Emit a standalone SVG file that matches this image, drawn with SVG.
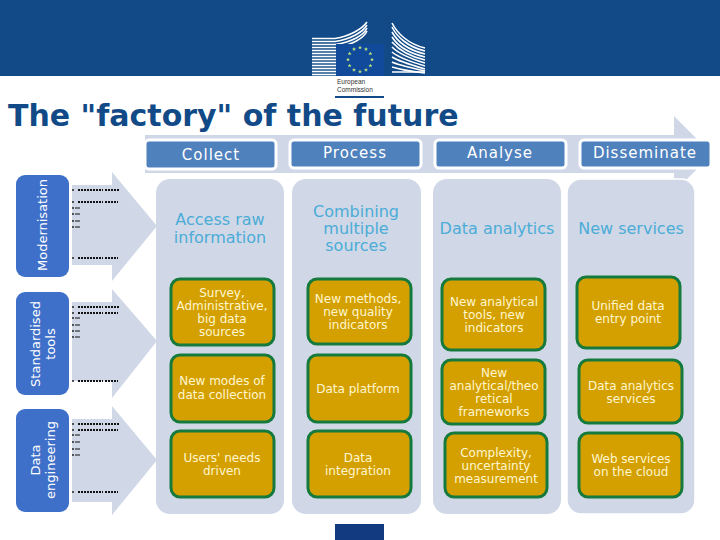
<svg xmlns="http://www.w3.org/2000/svg" xmlns:xlink="http://www.w3.org/1999/xlink" width="720" height="540" viewBox="0 0 720 540">
<style>
text{font-family:"DejaVu Sans","Verdana",sans-serif;text-anchor:middle}
.panel{fill:#d0d8e8}
.hdr{fill:#4f81bd;stroke:#fff;stroke-width:3}
.hdrt{fill:#fff;font-size:15px;letter-spacing:1px}
.side{fill:#3e6fc9}
.sidet{fill:#fff;font-size:13px}
.gold{fill:#d4a000;stroke:#157a3c;stroke-width:3}
.goldt{fill:#fff6cf;font-size:12px}
.blue{fill:#4bacd6;font-size:16px}
.win{fill:none;stroke:#fff;stroke-width:1.6}
.dot{fill:#111}
.mark{fill:none;stroke:#111;stroke-width:2;stroke-dasharray:2 1}
.mark2{fill:none;stroke:#111;stroke-width:1}
</style>
<defs>
<g id="bul"><circle cx="0" cy="0" r="0.9" class="dot"/><path d="M2 0h5" class="mark2"/></g>
<g id="bulL"><circle cx="0" cy="0" r="0.9" class="dot"/><path d="M5 0h25M32 0h15" class="mark"/></g>
<g id="bulS"><circle cx="0" cy="0" r="0.9" class="dot"/><path d="M5 0h25M32 0h13" class="mark"/></g>
<polygon id="star" points="0,-2 .6,-.6 2,-.6 .9,.3 1.3,1.8 0,.9 -1.3,1.8 -.9,.3 -2,-.6 -.6,-.6" fill="#b6e07a"/>
</defs>
<rect width="720" height="540" fill="#fff"/>
<g id="banner">
<rect width="720" height="76" fill="#114a87"/>
<g class="win">
<path d="M312 38.500H335C350 36 362 29 367 22"/><path d="M312 41.500H335C351 39 363 32 367 25"/><path d="M312 44.500H335C352 42 364 35 367 28"/><path d="M312 47.500H336C352 45 364 38 367 31"/><path d="M312 50.500H336"/><path d="M312 53.500H336"/><path d="M312 56.500H336"/><path d="M312 59.500H336"/><path d="M312 62.500H336"/><path d="M312 65.500H336"/><path d="M312 68.500H336"/><path d="M312 71.500H336"/><path d="M312 74.500H336"/>
<path d="M392 23C397 33 408 44 425 48"/><path d="M392 27C397 37 408 47 425 51"/><path d="M392 32C397 41 408 50 425 54"/><path d="M392 37C397 45 408 53 425 57"/><path d="M392 42C398 49 408 56 425 60"/><path d="M392 47C398 53 408 58 425 63"/><path d="M392 52C398 57 408 61 425 66"/><path d="M392 57C398 61 408 64 425 69"/><path d="M392 62C398 65 408 67 425 71"/><path d="M392 67C398 69 408 71 425 73"/><path d="M392 72H425"/>
</g>
<rect x="336" y="44" width="48" height="32" fill="#114a9b"/>
<g transform="translate(360 59.500)">
<use xlink:href="#star" x="0" y="-12"/><use xlink:href="#star" x="6" y="-10.400"/><use xlink:href="#star" x="10.400" y="-6"/><use xlink:href="#star" x="12" y="0"/><use xlink:href="#star" x="10.400" y="6"/><use xlink:href="#star" x="6" y="10.400"/><use xlink:href="#star" x="0" y="12"/><use xlink:href="#star" x="-6" y="10.400"/><use xlink:href="#star" x="-10.400" y="6"/><use xlink:href="#star" x="-12" y="0"/><use xlink:href="#star" x="-10.400" y="-6"/><use xlink:href="#star" x="-6" y="-10.400"/>
</g>
<text x="337" y="84" style="text-anchor:start;font-size:6.500px;fill:#333;font-family:'Liberation Sans',sans-serif">European</text>
<text x="337" y="92" style="text-anchor:start;font-size:6.500px;fill:#333;font-family:'Liberation Sans',sans-serif">Commission</text>
<rect x="335" y="96" width="49" height="2" fill="#114a87"/>
</g>
<text id="title" x="8" y="126" style="text-anchor:start;font-size:30px;font-weight:700;fill:#114a87">The "factory" of the future</text>
<g id="process-arrow"><polygon class="panel" points="145,135 674,135 674,116 712,154 674,192 674,173 145,173"/></g>
<g id="modernisation">
<polygon class="panel" points="72,185 112,185 112,172 157,226 112,281 112,265 72,265"/>
<rect class="side" x="16" y="175" width="53" height="102" rx="9"/>
<text class="sidet" transform="translate(47 225) rotate(-90)">Modernisation</text>
<use xlink:href="#bulL" x="73" y="190"/><use xlink:href="#bulS" x="73" y="202"/><use xlink:href="#bul" x="73" y="208"/><use xlink:href="#bul" x="73" y="214"/><use xlink:href="#bul" x="73" y="221"/><use xlink:href="#bul" x="73" y="227"/><use xlink:href="#bulS" x="73" y="258"/>
</g>
<g id="standardised">
<polygon class="panel" points="72,302 112,302 112,289 157,341 112,398 112,381 72,381"/>
<rect class="side" x="16" y="292" width="53" height="103" rx="9"/>
<text class="sidet" transform="translate(40 344) rotate(-90)">Standardised</text>
<text class="sidet" transform="translate(55 344) rotate(-90)">tools</text>
<use xlink:href="#bulL" x="73" y="307"/><use xlink:href="#bulS" x="73" y="313"/><use xlink:href="#bul" x="73" y="318"/><use xlink:href="#bul" x="73" y="325"/><use xlink:href="#bul" x="73" y="331"/><use xlink:href="#bul" x="73" y="337"/><use xlink:href="#bulS" x="73" y="381"/>
</g>
<g id="data-engineering">
<polygon class="panel" points="72,419 112,419 112,406 157,460 112,515 112,502 72,502"/>
<rect class="side" x="16" y="409" width="53" height="103" rx="9"/>
<text class="sidet" transform="translate(40 460) rotate(-90)">Data</text>
<text class="sidet" transform="translate(55 460) rotate(-90)">engineering</text>
<use xlink:href="#bulL" x="73" y="424"/><use xlink:href="#bulS" x="73" y="430"/><use xlink:href="#bul" x="73" y="435"/><use xlink:href="#bul" x="73" y="442"/><use xlink:href="#bul" x="73" y="449"/><use xlink:href="#bul" x="73" y="455"/><use xlink:href="#bulS" x="73" y="492"/>
</g>
<g id="col-collect">
<rect class="panel" x="156" y="179" width="128" height="335" rx="14"/>
<text class="blue" x="220" y="225">Access raw</text><text class="blue" x="220" y="243">information</text>
<rect class="hdr" x="145" y="140" width="131" height="29" rx="4"/><text class="hdrt" x="211" y="160">Collect</text>
<rect class="gold" x="171" y="279" width="103" height="66" rx="9"/>
<text class="goldt" x="222" y="297">Survey,</text><text class="goldt" x="222" y="310">Administrative,</text><text class="goldt" x="222" y="323">big data</text><text class="goldt" x="222" y="336">sources</text>
<rect class="gold" x="171" y="355" width="103" height="67" rx="9"/>
<text class="goldt" x="222" y="385">New modes of</text><text class="goldt" x="222" y="399">data collection</text>
<rect class="gold" x="171" y="431" width="103" height="66" rx="9"/>
<text class="goldt" x="222" y="462">Users' needs</text><text class="goldt" x="222" y="475">driven</text>
</g>
<g id="col-process">
<rect class="panel" x="292" y="179" width="129" height="335" rx="14"/>
<text class="blue" x="356" y="217">Combining</text><text class="blue" x="356" y="234">multiple</text><text class="blue" x="356" y="251">sources</text>
<rect class="hdr" x="290" y="140" width="131" height="28" rx="4"/><text class="hdrt" x="355" y="158">Process</text>
<rect class="gold" x="308" y="279" width="103" height="65" rx="9"/>
<text class="goldt" x="358" y="303">New methods,</text><text class="goldt" x="358" y="316">new quality</text><text class="goldt" x="358" y="329">indicators</text>
<rect class="gold" x="308" y="355" width="103" height="67" rx="9"/>
<text class="goldt" x="358" y="393">Data platform</text>
<rect class="gold" x="308" y="431" width="103" height="66" rx="9"/>
<text class="goldt" x="358" y="462">Data</text><text class="goldt" x="358" y="475">integration</text>
</g>
<g id="col-analyse">
<rect class="panel" x="433" y="179" width="128" height="335" rx="14"/>
<text class="blue" x="497" y="234">Data analytics</text>
<rect class="hdr" x="435" y="140" width="131" height="28" rx="4"/><text class="hdrt" x="500" y="158">Analyse</text>
<rect class="gold" x="442" y="279" width="103" height="71" rx="9"/>
<text class="goldt" x="494" y="306">New analytical</text><text class="goldt" x="494" y="319">tools, new</text><text class="goldt" x="494" y="332">indicators</text>
<rect class="gold" x="442" y="360" width="103" height="64" rx="9"/>
<text class="goldt" x="494" y="377">New</text><text class="goldt" x="494" y="390">analytical/theo</text><text class="goldt" x="494" y="403">retical</text><text class="goldt" x="494" y="416">frameworks</text>
<rect class="gold" x="445" y="433" width="102" height="64" rx="9"/>
<text class="goldt" x="496" y="457">Complexity,</text><text class="goldt" x="496" y="470">uncertainty</text><text class="goldt" x="496" y="483">measurement</text>
</g>
<g id="col-disseminate">
<rect class="panel" x="567" y="179" width="128" height="335" rx="14" stroke="#fff" stroke-width="1.500"/>
<text class="blue" x="631" y="234">New services</text>
<rect class="hdr" x="580" y="140" width="131" height="28" rx="4"/><text class="hdrt" x="645" y="158">Disseminate</text>
<rect class="gold" x="577" y="277" width="103" height="71" rx="9"/>
<text class="goldt" x="628" y="310">Unified data</text><text class="goldt" x="628" y="323">entry point</text>
<rect class="gold" x="579" y="360" width="103" height="63" rx="9"/>
<text class="goldt" x="631" y="390">Data analytics</text><text class="goldt" x="631" y="403">services</text>
<rect class="gold" x="579" y="433" width="103" height="64" rx="9"/>
<text class="goldt" x="631" y="463">Web services</text><text class="goldt" x="631" y="476">on the cloud</text>
</g>
<rect id="footer-mark" x="335" y="524" width="49" height="16" fill="#113a80"/>
</svg>
